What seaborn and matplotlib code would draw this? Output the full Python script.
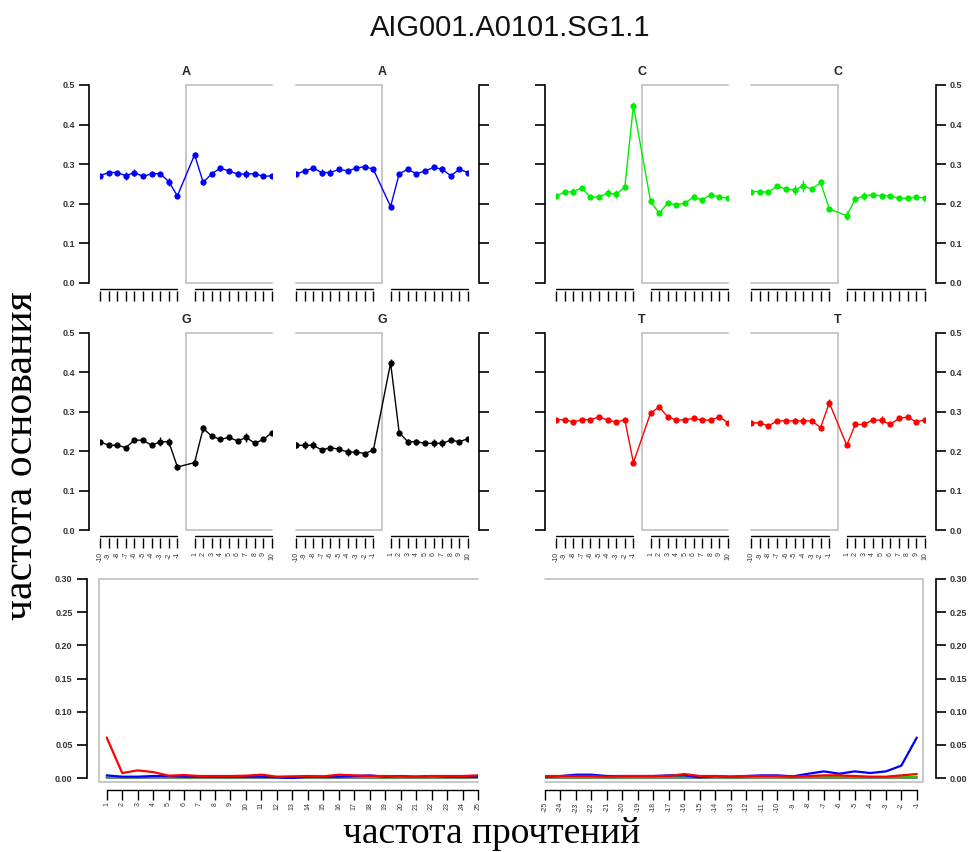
import numpy as np
import pandas as pd
import matplotlib
matplotlib.use("Agg")
import matplotlib.pyplot as plt
import seaborn as sns
from matplotlib.transforms import blended_transform_factory, offset_copy

sns.set_theme(style="white")
plt.rcParams["font.family"] = ["Liberation Sans", "DejaVu Sans"]

# ---------------- data ----------------
TITLE = "AIG001.A0101.SG1.1"
XLABEL = "частота прочтений"
YLABEL = "частота основания"

positions = [-10, -9, -8, -7, -6, -5, -4, -3, -2, -1, 1, 2, 3, 4, 5, 6, 7, 8, 9, 10]
base_ticks = [0.0, 0.1, 0.2, 0.3, 0.4, 0.5]

A_5p = [0.271, 0.279, 0.279, 0.271, 0.279, 0.269, 0.276, 0.276, 0.256, 0.220,
        0.324, 0.254, 0.276, 0.290, 0.283, 0.275, 0.275, 0.276, 0.269, 0.271]
A_3p = [0.275, 0.283, 0.290, 0.279, 0.279, 0.287, 0.283, 0.290, 0.294, 0.287,
        0.193, 0.276, 0.287, 0.276, 0.283, 0.292, 0.287, 0.271, 0.287, 0.279]
C_5p = [0.220, 0.229, 0.231, 0.240, 0.217, 0.217, 0.227, 0.224, 0.242, 0.448,
        0.206, 0.176, 0.202, 0.197, 0.202, 0.217, 0.210, 0.223, 0.217, 0.214]
C_3p = [0.231, 0.231, 0.229, 0.245, 0.237, 0.235, 0.245, 0.237, 0.254, 0.187,
        0.170, 0.212, 0.220, 0.223, 0.220, 0.220, 0.214, 0.214, 0.217, 0.214]
G_5p = [0.224, 0.215, 0.215, 0.209, 0.228, 0.228, 0.215, 0.224, 0.224, 0.160,
        0.171, 0.258, 0.238, 0.230, 0.235, 0.226, 0.235, 0.220, 0.230, 0.247]
G_3p = [0.215, 0.215, 0.215, 0.203, 0.209, 0.205, 0.198, 0.198, 0.194, 0.203,
        0.424, 0.247, 0.224, 0.224, 0.220, 0.220, 0.220, 0.228, 0.224, 0.232]
T_5p = [0.280, 0.280, 0.274, 0.280, 0.280, 0.287, 0.279, 0.274, 0.280, 0.171,
        0.297, 0.312, 0.287, 0.279, 0.280, 0.283, 0.279, 0.279, 0.287, 0.272]
T_3p = [0.272, 0.272, 0.264, 0.277, 0.277, 0.277, 0.277, 0.277, 0.260, 0.323,
        0.215, 0.268, 0.268, 0.279, 0.279, 0.268, 0.283, 0.287, 0.274, 0.280]

A_5p_err = [0.005, 0.005, 0.005, 0.010, 0.008, 0.004, 0.005, 0.005, 0.010, 0.006,
            0.006, 0.006, 0.005, 0.006, 0.005, 0.008, 0.010, 0.005, 0.004, 0.005]
A_3p_err = [0.004, 0.005, 0.005, 0.010, 0.008, 0.005, 0.005, 0.005, 0.005, 0.006,
            0.006, 0.005, 0.005, 0.005, 0.005, 0.006, 0.008, 0.005, 0.004, 0.005]
C_5p_err = [0.005, 0.006, 0.008, 0.006, 0.006, 0.006, 0.010, 0.010, 0.006, 0.008,
            0.006, 0.005, 0.005, 0.005, 0.005, 0.008, 0.008, 0.006, 0.005, 0.005]
C_3p_err = [0.005, 0.006, 0.005, 0.006, 0.006, 0.012, 0.014, 0.006, 0.008, 0.005,
            0.012, 0.008, 0.010, 0.005, 0.008, 0.005, 0.005, 0.005, 0.005, 0.005]
G_5p_err = [0.005, 0.005, 0.005, 0.005, 0.005, 0.005, 0.005, 0.012, 0.010, 0.008,
            0.008, 0.008, 0.005, 0.005, 0.006, 0.005, 0.012, 0.005, 0.005, 0.005]
G_3p_err = [0.008, 0.010, 0.010, 0.005, 0.005, 0.006, 0.010, 0.008, 0.005, 0.005,
            0.010, 0.005, 0.008, 0.008, 0.005, 0.010, 0.010, 0.005, 0.005, 0.005]
T_5p_err = [0.005, 0.005, 0.005, 0.005, 0.005, 0.006, 0.005, 0.005, 0.005, 0.005,
            0.005, 0.005, 0.005, 0.005, 0.005, 0.006, 0.005, 0.005, 0.005, 0.005]
T_3p_err = [0.005, 0.005, 0.005, 0.005, 0.005, 0.008, 0.010, 0.005, 0.005, 0.010,
            0.005, 0.006, 0.006, 0.005, 0.010, 0.005, 0.005, 0.005, 0.005, 0.005]

base_colors = {"A": "#0000FF", "C": "#00EE00", "G": "#000000", "T": "#FF0000"}

sub_pos_5p = list(range(1, 26))
sub_pos_3p = list(range(-25, 0))
sub_ticks = [0.0, 0.05, 0.10, 0.15, 0.20, 0.25, 0.30]

CT_5p = [0.061, 0.0075, 0.0115, 0.009, 0.0035, 0.0045, 0.003, 0.003, 0.003, 0.0035,
         0.005, 0.002, 0.0025, 0.003, 0.0025, 0.005, 0.004, 0.003, 0.003, 0.0025,
         0.002, 0.003, 0.003, 0.003, 0.004]
GA_5p = [0.004, 0.002, 0.002, 0.003, 0.003, 0.002, 0.002, 0.002, 0.002, 0.002,
         0.002, 0.001, 0.000, 0.002, 0.002, 0.002, 0.003, 0.004, 0.002, 0.003,
         0.002, 0.003, 0.002, 0.002, 0.002]
DEL_5p = [0.001, 0.001, 0.001, 0.0012, 0.001, 0.0008, 0.001, 0.001, 0.0009, 0.001,
          0.001, 0.0008, 0.001, 0.001, 0.0009, 0.001, 0.001, 0.001, 0.0008, 0.001,
          0.001, 0.0009, 0.001, 0.001, 0.001]
CLIP_5p = [0.0015, 0.0015, 0.0014, 0.0015, 0.0016, 0.0014, 0.0015, 0.0015, 0.0015, 0.0014,
           0.0016, 0.0015, 0.0015, 0.0014, 0.0015, 0.0015, 0.0016, 0.0015, 0.0014, 0.0015,
           0.0015, 0.0015, 0.0014, 0.0015, 0.0015]
INS_5p = [0.0005, 0.0005, 0.0004, 0.0005, 0.0005, 0.0006, 0.0005, 0.0005, 0.0004, 0.0005,
          0.0005, 0.0005, 0.0006, 0.0005, 0.0005, 0.0004, 0.0005, 0.0005, 0.0005, 0.0005,
          0.0006, 0.0005, 0.0005, 0.0004, 0.0005]

CT_3p = [0.003, 0.003, 0.003, 0.003, 0.002, 0.003, 0.003, 0.003, 0.003, 0.006,
         0.003, 0.003, 0.002, 0.003, 0.003, 0.003, 0.002, 0.003, 0.004, 0.004,
         0.003, 0.002, 0.002, 0.004, 0.006]
GA_3p = [0.002, 0.003, 0.005, 0.005, 0.003, 0.003, 0.003, 0.003, 0.004, 0.004,
         0.001, 0.003, 0.002, 0.003, 0.004, 0.004, 0.0025, 0.0065, 0.010, 0.0065,
         0.010, 0.0075, 0.010, 0.0186, 0.061]
DEL_3p = [0.001, 0.001, 0.0009, 0.001, 0.001, 0.0008, 0.001, 0.001, 0.001, 0.0009,
          0.001, 0.001, 0.0008, 0.001, 0.001, 0.001, 0.0009, 0.001, 0.001, 0.001,
          0.0008, 0.001, 0.001, 0.001, 0.001]
CLIP_3p = [0.0015, 0.0015, 0.0015, 0.0014, 0.0015, 0.0016, 0.0015, 0.0015, 0.0014, 0.0015,
           0.0015, 0.0015, 0.0016, 0.0015, 0.0015, 0.0014, 0.0015, 0.0015, 0.0015, 0.0016,
           0.0015, 0.0015, 0.0014, 0.0015, 0.0015]
INS_3p = [0.0005, 0.0005, 0.0005, 0.0004, 0.0005, 0.0005, 0.0006, 0.0005, 0.0005, 0.0005,
          0.0004, 0.0005, 0.0005, 0.0005, 0.0006, 0.0005, 0.0005, 0.0005, 0.0004, 0.0005,
          0.0005, 0.0005, 0.0006, 0.0005, 0.0005]

sub_colors = {"ins": "#A020F0", "clip": "#FFA500", "del": "#00CC00", "GA": "#0000FF", "CT": "#FF0000"}

# ---------------- layout ----------------
W, H = 976, 852
fig = plt.figure(figsize=(W / 100, H / 100), dpi=100)


def rect(l, t, r, b):
    return [l / W, 1 - b / H, (r - l) / W, (b - t) / H]


GREY = "#BEBEBE"
TXT = "#333333"

rows = [(85, 283), (333, 530)]
cols = [(100, 272), (296, 468), (556, 728), (751, 925)]

panels = [
    ("A", "5p", 0, 0, A_5p, A_5p_err), ("A", "3p", 0, 1, A_3p, A_3p_err),
    ("C", "5p", 0, 2, C_5p, C_5p_err), ("C", "3p", 0, 3, C_3p, C_3p_err),
    ("G", "5p", 1, 0, G_5p, G_5p_err), ("G", "3p", 1, 1, G_3p, G_3p_err),
    ("T", "5p", 1, 2, T_5p, T_5p_err), ("T", "3p", 1, 3, T_3p, T_3p_err),
]

for base, end, r, c, vals, errs in panels:
    t, b = rows[r]
    l, rr = cols[c]
    ax = fig.add_axes(rect(l, t, rr, b))
    col = base_colors[base]
    df = pd.DataFrame({"pos": positions, "freq": vals})
    ax.errorbar(positions, vals, yerr=errs, fmt="none", ecolor=col, elinewidth=1, capsize=0, zorder=2)
    sns.lineplot(data=df, x="pos", y="freq", ax=ax, color=col, marker="o", markersize=4.5,
                 markeredgewidth=0, linewidth=1, errorbar=None, zorder=3)
    ax.set_xlim(-10, 10)
    ax.set_ylim(0, 0.5)
    ax.set_xlabel("")
    ax.set_ylabel("")
    ax.set_title(base, fontweight="bold", fontsize=9, pad=7)
    # grey read box (read side)
    far = 10 if end == "5p" else -10
    ax.plot([far, 0, 0, far], [0, 0, 0.5, 0.5], color=GREY, lw=1.2, clip_on=False, zorder=1)
    for s in ax.spines.values():
        s.set_visible(False)
    side = "left" if c in (0, 2) else "right"
    ax.spines[side].set_visible(True)
    ax.spines[side].set_position(("outward", 8))
    ax.spines[side].set_bounds(0, 0.5)
    ax.spines[side].set_color("black")
    ax.spines[side].set_linewidth(1.2)
    ax.set_yticks(base_ticks)
    ax.set_yticklabels([f"{v:.1f}" for v in base_ticks])
    show_y = c in (0, 3)
    ax.tick_params(axis="y", which="both", left=(side == "left"), right=(side == "right"),
                   labelleft=(show_y and side == "left"), labelright=(show_y and side == "right"),
                   direction="out", length=7, width=1.2, color="black", labelsize=6.5,
                   labelcolor=TXT, pad=3)
    for lab in ax.get_yticklabels():
        lab.set_fontweight("bold")
    # x axis: two tick groups
    ax.spines["bottom"].set_position(("outward", 6))
    ax.set_xticks(positions)
    ax.set_xticklabels([str(p) for p in positions])
    ax.tick_params(axis="x", bottom=True, direction="out", length=7, width=1, color="black",
                   labelbottom=(r == 1), labelsize=5, labelrotation=90, labelcolor=TXT, pad=3)
    tr = offset_copy(blended_transform_factory(ax.transData, ax.transAxes), fig=fig, y=-6, units="dots")
    neg = [p for p in positions if p < 0]
    pos = [p for p in positions if p > 0]
    for grp in (neg, pos):
        ax.plot([min(grp), max(grp)], [0, 0], color="black", lw=1, transform=tr, clip_on=False)
    for lab in ax.get_xticklabels():
        lab.set_va("top")

# ---------------- substitution panels ----------------
sub_panels = [
    ("5p", (99, 579, 478, 782), sub_pos_5p, CT_5p, GA_5p, DEL_5p, CLIP_5p, INS_5p, (0.5, 25)),
    ("3p", (545, 579, 923, 782), sub_pos_3p, CT_3p, GA_3p, DEL_3p, CLIP_3p, INS_3p, (-25, -0.6)),
]
for end, box, xs, ct, ga, de, cl, ins, xl in sub_panels:
    ax = fig.add_axes(rect(*box))
    frames = []
    for name, v in (("ins", ins), ("clip", cl), ("del", de), ("GA", ga), ("CT", ct)):
        frames.append(pd.DataFrame({"pos": xs, "freq": v, "type": name}))
    df = pd.concat(frames, ignore_index=True)
    sns.lineplot(data=df, x="pos", y="freq", hue="type", palette=sub_colors, ax=ax,
                 linewidth=1.6, legend=False, errorbar=None)
    ax.set_xlim(*xl)
    ax.set_ylim(-0.006, 0.3)
    ax.set_xlabel("")
    ax.set_ylabel("")
    if end == "5p":
        bx = [max(xs), xl[0], xl[0], max(xs)]
    else:
        bx = [min(xs), xl[1], xl[1], min(xs)]
    ax.plot(bx, [-0.006, -0.006, 0.3, 0.3], color=GREY, lw=1.2, clip_on=False, zorder=0)
    for s in ax.spines.values():
        s.set_visible(False)
    side = "left" if end == "5p" else "right"
    ax.spines[side].set_visible(True)
    ax.spines[side].set_position(("outward", 9))
    ax.spines[side].set_bounds(0, 0.3)
    ax.spines[side].set_color("black")
    ax.spines[side].set_linewidth(1.2)
    ax.set_yticks(sub_ticks)
    ax.set_yticklabels([f"{v:.2f}" for v in sub_ticks])
    ax.tick_params(axis="y", left=(side == "left"), right=(side == "right"),
                   labelleft=(side == "left"), labelright=(side == "right"),
                   direction="out", length=7, width=1.2, color="black", labelsize=6.5,
                   labelcolor=TXT, pad=3)
    for lab in ax.get_yticklabels():
        lab.set_fontweight("bold")
    ax.spines["bottom"].set_visible(True)
    ax.spines["bottom"].set_position(("outward", 6))
    ax.spines["bottom"].set_bounds(min(xs), max(xs))
    ax.spines["bottom"].set_color("black")
    ax.spines["bottom"].set_linewidth(1)
    ax.set_xticks(xs)
    ax.set_xticklabels([str(p) for p in xs])
    ax.tick_params(axis="x", bottom=True, direction="out", length=7, width=1, color="black",
                   labelsize=5, labelrotation=90, labelcolor=TXT, pad=1.5)
    for lab in ax.get_xticklabels():
        lab.set_va("top")

# ---------------- titles / labels ----------------
fig.text(510 / W, 1 - 28 / H, TITLE, ha="center", va="center", fontsize=21, color="#111111")
fig.text(492 / W, 1 - 843 / H, XLABEL, ha="center", va="baseline", fontsize=27,
         family=["Liberation Serif", "DejaVu Serif"], color="black")
fig.text(22 / W, 1 - 620 / H, YLABEL, ha="center", va="bottom", rotation=90, fontsize=30,
         family=["Liberation Serif", "DejaVu Serif"], color="black")

fig.savefig("out.png", dpi=100, facecolor="white")
